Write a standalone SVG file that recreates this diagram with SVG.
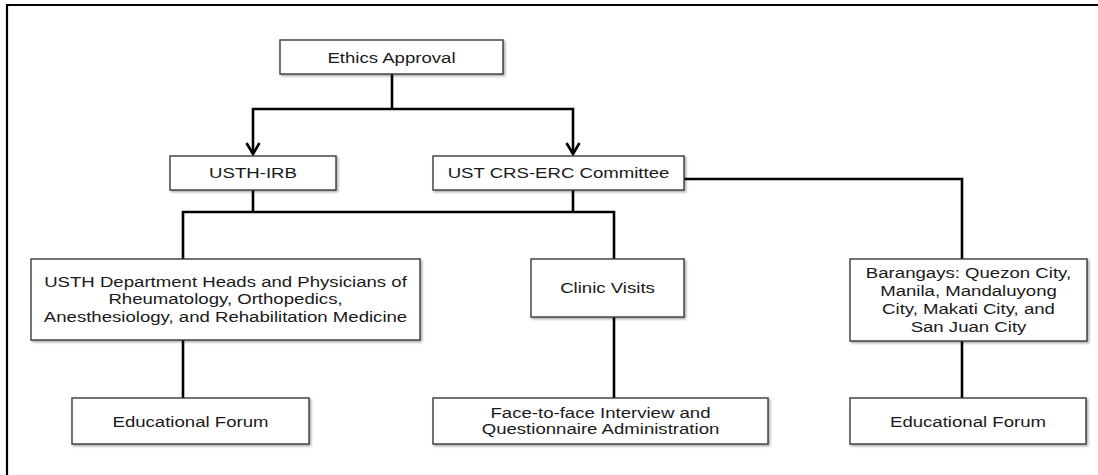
<svg xmlns="http://www.w3.org/2000/svg" width="1098" height="475" viewBox="0 0 1098 475">
<style>
.box{fill:#fff;stroke:#3a3a3a;stroke-width:1.4;filter:url(#sh)}
.lbl{font-family:"Liberation Sans",Arial,sans-serif;font-size:15.5px;fill:#1a1a1a;text-anchor:middle}
.con{fill:none;stroke:#000;stroke-width:2.6}
</style>
<defs>
<filter id="sh" x="-5%" y="-10%" width="115%" height="130%">
<feDropShadow dx="1.5" dy="1.5" stdDeviation="0.8" flood-color="#000" flood-opacity="0.35"/>
</filter>
<marker id="arr" markerUnits="userSpaceOnUse" viewBox="-1 -8 14 16" refX="11" refY="0" markerWidth="14" markerHeight="16" orient="auto" overflow="visible">
<path d="M0,-6.5 L11,0 L0,6.5" fill="none" stroke="#000" stroke-width="2.6"/>
</marker>
</defs>
<path d="M7,475 V5 H1098" fill="none" stroke="#000" stroke-width="2.2"/>
<g id="connectors">
<path class="con" d="M392,74 V109"/>
<path class="con" d="M392,109 H253 V154" marker-end="url(#arr)"/>
<path class="con" d="M392,109 H573 V154" marker-end="url(#arr)"/>
<path class="con" d="M253,190 V212"/>
<path class="con" d="M573,190 V212"/>
<path class="con" d="M183,259 V212 H614 V259"/>
<path class="con" d="M183,340 V398"/>
<path class="con" d="M614,317 V398"/>
<path class="con" d="M684,179 H962 V259"/>
<path class="con" d="M962,341 V398"/>
</g>
<g id="ethics"><rect class="box" x="280" y="40" width="223" height="34"/><text class="lbl" transform="translate(391.5 63) scale(1.2 1)">Ethics Approval</text></g>
<g id="usth-irb"><rect class="box" x="170" y="156" width="166" height="34"/><text class="lbl" transform="translate(253 178) scale(1.2 1)">USTH-IRB</text></g>
<g id="ust-crs"><rect class="box" x="433" y="156" width="251" height="34"/><text class="lbl" transform="translate(558.5 178) scale(1.2 1)">UST CRS-ERC Committee</text></g>
<g id="usth-dept"><rect class="box" x="31" y="259" width="389" height="81"/><text class="lbl" transform="translate(225.5 287) scale(1.2 1)"><tspan x="0" y="0">USTH Department Heads and Physicians of</tspan><tspan x="0" y="17.5">Rheumatology, Orthopedics,</tspan><tspan x="0" y="35">Anesthesiology, and Rehabilitation Medicine</tspan></text></g>
<g id="clinic"><rect class="box" x="531" y="259" width="153" height="58"/><text class="lbl" transform="translate(607.5 293) scale(1.2 1)">Clinic Visits</text></g>
<g id="barangays"><rect class="box" x="850" y="259" width="237" height="82"/><text class="lbl" transform="translate(968.5 278) scale(1.2 1)"><tspan x="0" y="0">Barangays: Quezon City,</tspan><tspan x="0" y="18">Manila, Mandaluyong</tspan><tspan x="0" y="36">City, Makati City, and</tspan><tspan x="0" y="54">San Juan City</tspan></text></g>
<g id="edforum-left"><rect class="box" x="72" y="398" width="237" height="46"/><text class="lbl" transform="translate(190.5 427) scale(1.2 1)">Educational Forum</text></g>
<g id="face"><rect class="box" x="433" y="398" width="335" height="46"/><text class="lbl" transform="translate(600.5 418) scale(1.2 1)"><tspan x="0" y="0">Face-to-face Interview and</tspan><tspan x="0" y="16">Questionnaire Administration</tspan></text></g>
<g id="edforum-right"><rect class="box" x="850" y="398" width="236" height="46"/><text class="lbl" transform="translate(968 427) scale(1.2 1)">Educational Forum</text></g>
</svg>
